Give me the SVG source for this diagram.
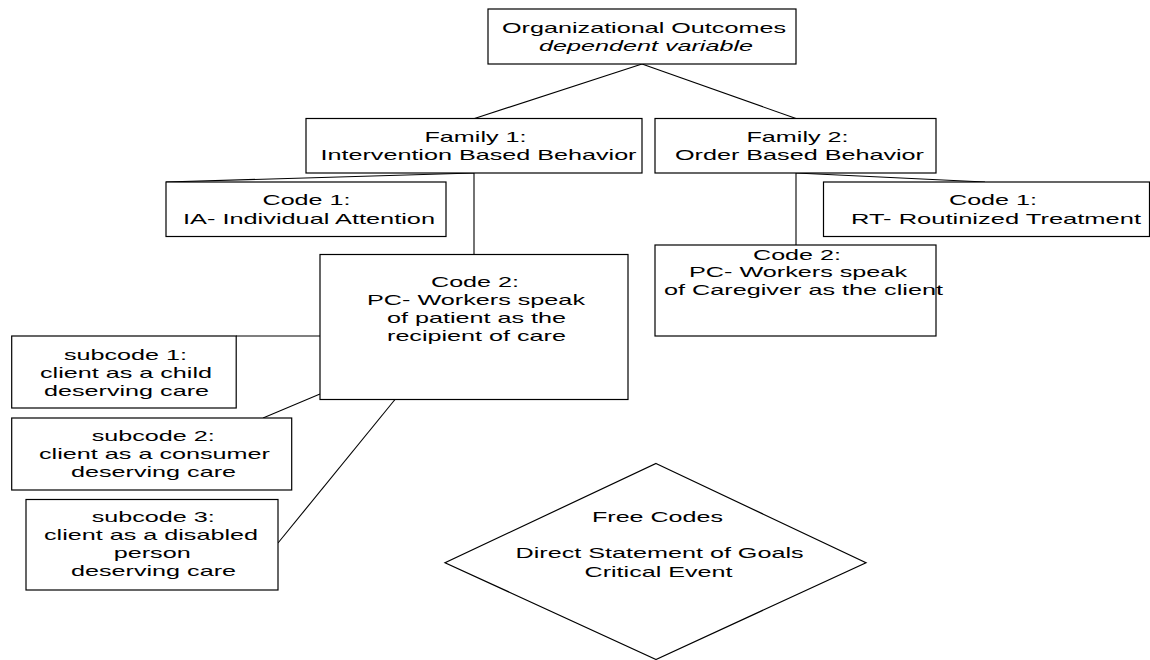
<svg xmlns="http://www.w3.org/2000/svg" width="1150" height="660" viewBox="0 0 1150 660">
<style>
.box{fill:#fff;stroke:#000;stroke-width:1.2}
.ln{fill:none;stroke:#000;stroke-width:1.1}
.t{font-family:"Liberation Sans",Arial,sans-serif;font-size:15px;fill:#000}
.it{font-style:italic}
</style>
<rect width="1150" height="660" fill="#fff"/>
<g id="connectors">
<line class="ln" x1="642" y1="64" x2="474.5" y2="118.5"/>
<line class="ln" x1="642" y1="64" x2="796" y2="118.5"/>
<line class="ln" x1="474" y1="173" x2="166" y2="182"/>
<line class="ln" x1="474" y1="173" x2="474" y2="254.5"/>
<line class="ln" x1="796" y1="173" x2="985" y2="182"/>
<line class="ln" x1="796" y1="173" x2="796" y2="245"/>
<line class="ln" x1="236" y1="336" x2="320" y2="336"/>
<line class="ln" x1="320" y1="394" x2="263" y2="418"/>
<line class="ln" x1="395" y1="399.5" x2="278" y2="543"/>
</g>
<g id="outcomes">
<rect class="box" x="488" y="9" width="308" height="55"/>
<text class="t" x="502" y="33" textLength="284" lengthAdjust="spacingAndGlyphs">Organizational Outcomes</text>
<text class="t it" x="539" y="50.5" textLength="214" lengthAdjust="spacingAndGlyphs">dependent variable</text>
</g>
<g id="family1">
<rect class="box" x="306" y="118.5" width="336" height="54.5"/>
<text class="t" x="424.5" y="142" textLength="102" lengthAdjust="spacingAndGlyphs">Family 1:</text>
<text class="t" x="320.5" y="160" textLength="316" lengthAdjust="spacingAndGlyphs">Intervention Based Behavior</text>
</g>
<g id="family2">
<rect class="box" x="655" y="118.5" width="281" height="54.5"/>
<text class="t" x="746.5" y="142" textLength="102" lengthAdjust="spacingAndGlyphs">Family 2:</text>
<text class="t" x="675" y="160" textLength="249" lengthAdjust="spacingAndGlyphs">Order Based Behavior</text>
</g>
<g id="code1-ia">
<rect class="box" x="166" y="182" width="280" height="54.5"/>
<text class="t" x="262.5" y="205" textLength="88" lengthAdjust="spacingAndGlyphs">Code 1:</text>
<text class="t" x="183" y="224" textLength="252" lengthAdjust="spacingAndGlyphs">IA- Individual Attention</text>
</g>
<g id="code1-rt">
<rect class="box" x="823.5" y="182" width="326" height="54.5"/>
<text class="t" x="949" y="205" textLength="88" lengthAdjust="spacingAndGlyphs">Code 1:</text>
<text class="t" x="851" y="224" textLength="290" lengthAdjust="spacingAndGlyphs">RT- Routinized Treatment</text>
</g>
<g id="code2-pc-patient">
<rect class="box" x="320" y="254.5" width="308" height="145"/>
<text class="t" x="431" y="286.5" textLength="88" lengthAdjust="spacingAndGlyphs">Code 2:</text>
<text class="t" x="367" y="305" textLength="218" lengthAdjust="spacingAndGlyphs">PC- Workers speak</text>
<text class="t" x="387" y="323" textLength="179" lengthAdjust="spacingAndGlyphs">of patient as the</text>
<text class="t" x="387" y="341" textLength="179" lengthAdjust="spacingAndGlyphs">recipient of care</text>
</g>
<g id="code2-pc-caregiver">
<rect class="box" x="655" y="245" width="281" height="91"/>
<text class="t" x="753" y="259.5" textLength="88" lengthAdjust="spacingAndGlyphs">Code 2:</text>
<text class="t" x="689" y="277" textLength="218" lengthAdjust="spacingAndGlyphs">PC- Workers speak</text>
<text class="t" x="664" y="295" textLength="279" lengthAdjust="spacingAndGlyphs">of Caregiver as the client</text>
</g>
<g id="subcode1">
<rect class="box" x="11.7" y="336" width="224.5" height="72"/>
<text class="t" x="64" y="360" textLength="123" lengthAdjust="spacingAndGlyphs">subcode 1:</text>
<text class="t" x="40" y="378.3" textLength="172" lengthAdjust="spacingAndGlyphs">client as a child</text>
<text class="t" x="44" y="396" textLength="165" lengthAdjust="spacingAndGlyphs">deserving care</text>
</g>
<g id="subcode2">
<rect class="box" x="11.7" y="418" width="280" height="72"/>
<text class="t" x="91.7" y="440.7" textLength="123" lengthAdjust="spacingAndGlyphs">subcode 2:</text>
<text class="t" x="39" y="459.3" textLength="231" lengthAdjust="spacingAndGlyphs">client as a consumer</text>
<text class="t" x="71" y="477" textLength="165" lengthAdjust="spacingAndGlyphs">deserving care</text>
</g>
<g id="subcode3">
<rect class="box" x="26" y="499.5" width="252" height="90.5"/>
<text class="t" x="91.7" y="521.7" textLength="123" lengthAdjust="spacingAndGlyphs">subcode 3:</text>
<text class="t" x="44" y="540" textLength="214" lengthAdjust="spacingAndGlyphs">client as a disabled</text>
<text class="t" x="113.7" y="558.3" textLength="77" lengthAdjust="spacingAndGlyphs">person</text>
<text class="t" x="71" y="576" textLength="165" lengthAdjust="spacingAndGlyphs">deserving care</text>
</g>
<g id="free-codes">
<polygon class="box" points="656,463.5 866,562.7 656,659.5 445,562.7"/>
<text class="t" x="592" y="522" textLength="131" lengthAdjust="spacingAndGlyphs">Free Codes</text>
<text class="t" x="515.6" y="558" textLength="288" lengthAdjust="spacingAndGlyphs">Direct Statement of Goals</text>
<text class="t" x="584.5" y="576.7" textLength="148" lengthAdjust="spacingAndGlyphs">Critical Event</text>
</g>
</svg>
